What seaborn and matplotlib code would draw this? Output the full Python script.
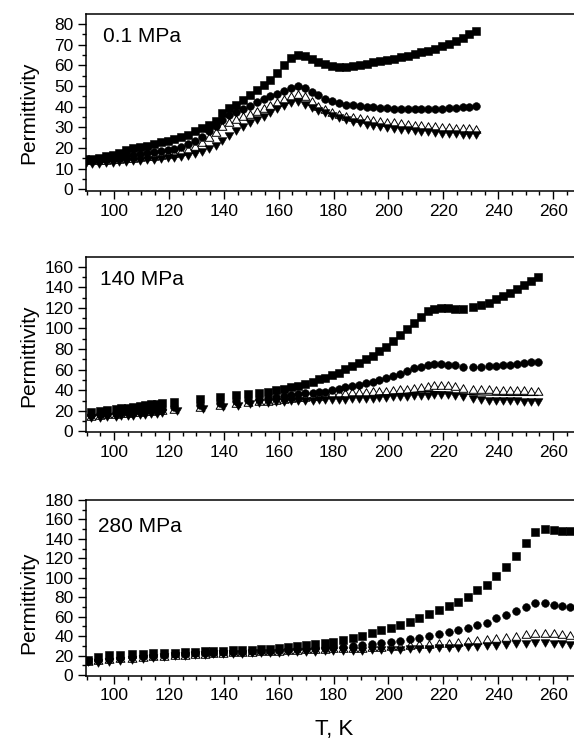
import matplotlib
matplotlib.use("Agg")
import matplotlib.pyplot as plt
import seaborn as sns
from matplotlib.ticker import MultipleLocator
from matplotlib.path import Path
from matplotlib.markers import MarkerStyle

# ---------------- data: 0.1 MPa ----------------
T_01 = [89.5, 92, 94.5, 97, 99.5, 102, 104.5, 107, 109.5, 112,
        114.5, 117, 119.5, 122, 124.5, 127, 129.5, 132, 134.5, 137,
        139.5, 142, 144.5, 147, 149.5, 152, 154.5, 157, 159.5, 162,
        164.5, 167, 169.5, 172, 174.5, 177, 179.5, 182, 184.5, 187,
        189.5, 192, 194.5, 197, 199.5, 202, 204.5, 207, 209.5, 212,
        214.5, 217, 219.5, 222, 224.5, 227, 229.5, 232]
sq_01 = [14.5, 14.8, 15.3, 16, 16.8, 17.8, 18.8, 19.8, 20.5, 21.2,
         21.9, 22.7, 23.5, 24.3, 25.3, 26.5, 28, 29.6, 31, 33,
         36.8, 39.2, 41, 43, 45.5, 48, 50.3, 53, 56.3, 60,
         63.3, 65, 64.5, 63, 61.6, 60.6, 59.8, 59.3, 59.2, 59.6,
         60.2, 60.8, 61.4, 62, 62.5, 63.2, 63.8, 64.6, 65.4, 66.2,
         67, 68, 69.2, 70.3, 71.6, 73.3, 75, 76.4]
ci_01 = [14, 14.2, 14.5, 14.8, 15.2, 15.6, 16, 16.5, 17, 17.5,
         18, 18.5, 19, 19.7, 20.5, 21.8, 23.3, 25.3, 28, 30.8,
         33.5, 35.8, 37.5, 38.8, 40.5, 42, 43.5, 45, 46.3, 47.8,
         49.2, 49.8, 49, 47.3, 45.5, 43.8, 42.6, 41.7, 41, 40.6,
         40.2, 39.9, 39.6, 39.4, 39.2, 39, 38.9, 38.8, 38.7, 38.7,
         38.7, 38.8, 39, 39.1, 39.3, 39.6, 40, 40.3]
op_01 = [14, 14.1, 14.2, 14.4, 14.6, 14.8, 15, 15.3, 15.6, 15.9,
         16.2, 16.6, 17, 17.6, 18.5, 19.6, 21, 23, 25.3, 27.8,
         30.5, 32.5, 34.2, 35.3, 36.5, 38, 39.4, 40.8, 42.2, 43.5,
         45, 46.2, 45, 42.5, 40.5, 38.8, 37.3, 36.3, 35.6, 35,
         34.5, 34, 33.6, 33.2, 32.8, 32.4, 32, 31.7, 31.3, 31,
         30.7, 30.5, 30.3, 30.1, 29.9, 29.7, 29.5, 29.4]
dn_01 = [12, 12.2, 12.4, 12.6, 12.8, 13, 13.3, 13.6, 13.9, 14.1,
         14.4, 14.7, 15, 15.3, 15.7, 16.2, 17, 18, 19.3, 21,
         23.5, 26, 28.3, 30.2, 32, 33.5, 35, 36.8, 38.8, 40.5,
         41.8, 42.3, 41, 39.3, 37.8, 36.8, 35.5, 34.4, 33.5, 32.7,
         32, 31.3, 30.6, 30.1, 29.6, 29.2, 28.8, 28.5, 28.2, 27.9,
         27.6, 27.3, 27, 26.8, 26.6, 26.4, 26.3, 26.2]

# ---------------- data: 140 MPa ----------------
T_140 = [91.8, 94.8, 97.3, 100.9, 102.7, 105.2, 107.0, 109.4, 111.2, 113.6,
         115.5, 117.6, 121.8, 131.2, 138.5, 144.3, 148.8, 152.7, 156.0, 159.1,
         162.1, 164.5, 167.0, 169.7, 172.4, 174.8, 177.0, 179.3, 181.8, 184.2,
         186.8, 189.3, 191.8, 194.3, 196.7, 199.2, 201.8, 204.2, 206.7, 209.2,
         211.7, 214.3, 216.7, 219.2, 221.8, 224.3, 227.3, 230.8, 233.8, 236.7,
         239.3, 241.9, 244.4, 247.0, 249.4, 251.9, 254.5]
sq_140 = [19, 19.5, 21, 22, 22.5, 23.2, 24, 24.8, 25.5, 26.2,
          27, 27.8, 29, 31.5, 33.8, 35, 36.3, 37.8, 38.8, 40.4,
          41.6, 43.4, 44.6, 46.5, 48.5, 50.5, 52.3, 55, 57.2, 60.5,
          63.7, 66.3, 70.2, 73.4, 78.3, 82.5, 88.3, 93.8, 99.3, 105.7,
          111.5, 117.1, 119.3, 120.3, 120.3, 119.3, 119.3, 120.6, 122.6, 125.1,
          128.4, 131.6, 134.8, 138.7, 142.6, 146.2, 149.8]
ci_140 = [16, 16.5, 17, 18, 18.5, 19, 19.5, 20, 20.5, 21,
          21.5, 22, 23.5, 26, 28, 29.5, 30.5, 31.5, 32.5, 33.5,
          34.5, 35.5, 36.3, 37, 37.8, 38.3, 38.8, 40.4, 41.4, 42.7,
          43.7, 45.3, 46.9, 48.5, 50.1, 51.8, 53.4, 56.0, 58.9, 61.5,
          63.0, 64.7, 65.3, 65.3, 65.0, 64.4, 63.0, 63.0, 63.0, 63.4,
          63.7, 64.4, 65.0, 65.7, 66.3, 67.0, 67.9]
op_140 = [15.5, 16, 16.5, 17.2, 17.6, 18, 18.6, 19.2, 19.7, 20.2,
          20.6, 21, 22, 24, 26, 27.5, 28.5, 29.5, 30, 31,
          32, 32.5, 33, 33.5, 34, 34.5, 36.5, 37, 37.3, 37.6,
          38, 38.3, 38.6, 39, 39.3, 39.7, 40.2, 40.8, 41.5, 42.5,
          43.5, 44.3, 45, 45.3, 45, 44.3, 42.5, 41.5, 41, 40.8,
          40.5, 40.3, 40.2, 40, 39.8, 39.6, 39.5]
Tdn_140 = [91.8, 94.8, 97.3, 100.9, 102.7, 105.2, 107.0, 109.4, 111.2, 113.6,
           115.5, 117.6, 123.0, 132.4, 139.7, 145.2, 149.4, 152.7, 156.0, 159.1,
           162.1, 164.5, 167.0, 169.7, 172.4, 174.8, 177.0, 179.3, 181.8, 184.2,
           186.8, 189.3, 191.8, 194.3, 196.7, 199.2, 201.8, 204.2, 206.7, 209.2,
           211.7, 214.3, 216.7, 219.2, 221.8, 224.3, 227.3, 230.8, 233.8, 236.7,
           239.3, 241.9, 244.4, 247.0, 249.4, 251.9, 254.5]
dn_140 = [13, 13.3, 13.8, 14.3, 14.6, 15, 15.3, 15.8, 16.3, 16.8,
          17.3, 18, 19.4, 21.7, 23.7, 24.9, 26.5, 27.5, 28, 28.5,
          29, 29.3, 29.5, 29.8, 30, 30.2, 30.3, 30.5, 30.7, 31,
          31.2, 31.5, 31.8, 32, 32.3, 32.6, 33, 33.3, 33.7, 34,
          34.4, 34.8, 35.1, 35.2, 35, 34.4, 33, 31.5, 30.5, 30,
          29.7, 29.5, 29.3, 29.2, 29.1, 29, 29]
Tln_140 = [196.7, 199.2, 201.8, 204.2, 206.7, 209.2, 211.7, 214.3, 216.7, 219.2,
           221.8, 224.3, 227.3, 230.8, 233.8, 236.7, 239.3, 241.9, 244.4, 247.0,
           249.4, 251.9, 254.5]
ln_140 = [35.2, 35.6, 36, 36.5, 37.2, 38, 38.5, 38.8, 38.8, 38.4,
          37.8, 37, 36.3, 35.8, 35.5, 35.3, 35.2, 35.1, 35, 35,
          35, 35, 35]

# ---------------- data: 280 MPa ----------------
T_280 = [90.7, 94.2, 98.2, 102.1, 106.4, 110.4, 114.2, 118.1, 122.1, 125.8,
         129.4, 133.0, 136.1, 139.7, 143.3, 146.7, 150.2, 153.6, 156.7, 160.1,
         163.3, 166.6, 170.0, 173.4, 176.7, 179.9, 183.6, 187.0, 190.5, 193.9,
         197.3, 200.8, 204.3, 207.8, 211.3, 214.8, 218.4, 221.9, 225.4, 228.9,
         232.4, 235.9, 239.3, 243.0, 246.5, 250.0, 253.4, 256.9, 260.3, 263.3,
         266.0]
sq_280 = [15.5, 18.9, 20.2, 20.8, 21.2, 21.8, 22.3, 22.6, 23, 23.5,
          24, 24.3, 24.7, 25, 25.4, 25.8, 26.2, 26.7, 27.2, 27.8,
          28.4, 29.8, 30.6, 31.4, 32.6, 34.3, 36, 38.4, 40.5, 42.9,
          46, 48.7, 51.8, 54.9, 58.6, 62.7, 66.9, 71, 75.4, 80.6,
          87.1, 92.9, 101.5, 111.1, 122.7, 136.1, 147.4, 150.2, 148.8, 148.1,
          148.1]
ci_280 = [14.5, 15.5, 16.5, 17.5, 18.5, 19.3, 20, 20.7, 21.3, 21.8,
          22.2, 22.6, 23, 23.3, 23.6, 24, 24.3, 24.7, 25, 25.4,
          25.8, 26.3, 26.8, 27.3, 27.8, 28.5, 29.2, 30, 30.8, 31.6,
          32.6, 33.9, 35, 36.7, 38.4, 40.5, 42.2, 43.9, 46, 48.7,
          51.4, 53.8, 58.3, 61.4, 65.5, 70.3, 73.7, 73.7, 72, 71,
          70.3]
op_280 = [14, 15, 16, 17, 17.8, 18.5, 19.2, 19.8, 20.4, 21,
          21.5, 22, 22.4, 22.8, 23.2, 23.6, 24, 24.4, 24.8, 25.2,
          25.6, 26, 26.4, 26.8, 27.2, 27.5, 27.8, 28, 28.3, 28.6,
          29, 29.5, 30.2, 30.8, 31.4, 32, 32.7, 33.4, 34.2, 35,
          35.8, 36.7, 37.7, 39, 40.5, 42, 43.3, 43.5, 42.8, 41.8,
          41]
dn_280 = [13.5, 12, 13, 14.5, 15.5, 16.5, 17.3, 18.3, 19.3, 20,
          20.5, 21, 21.2, 21.5, 21.7, 22, 22.2, 22.5, 22.7, 23,
          23.2, 23.5, 23.7, 24, 24.2, 24.5, 24.7, 24.9, 25.1, 25.3,
          25.5, 25.7, 26, 26.3, 26.6, 27, 27.4, 27.8, 28.2, 28.7,
          29.2, 29.7, 30.3, 31, 31.7, 32.4, 32.8, 32.8, 32.3, 31.8,
          31.3]

x_ticks = [100, 120, 140, 160, 180, 200, 220, 240, 260]
panel_labels = ["0.1 MPa", "140 MPa", "280 MPa"]
y_label = "Permittivity"
x_label = "T, K"

# ---------------- style ----------------
sns.set_style("ticks")
plt.rcParams["font.family"] = ["Liberation Sans", "DejaVu Sans"]
plt.rcParams["axes.linewidth"] = 1.1
plt.rcParams["text.color"] = "black"
plt.rcParams["axes.labelcolor"] = "black"
plt.rcParams["xtick.color"] = "black"
plt.rcParams["ytick.color"] = "black"
plt.rcParams["axes.edgecolor"] = "black"

UP = MarkerStyle(Path([(-1, -0.866), (1, -0.866), (0, 0.866), (-1, -0.866)],
                      [Path.MOVETO, Path.LINETO, Path.LINETO, Path.CLOSEPOLY]))
DOWN = MarkerStyle(Path([(-1, 0.866), (1, 0.866), (0, -0.866), (-1, 0.866)],
                        [Path.MOVETO, Path.LINETO, Path.LINETO, Path.CLOSEPOLY]))

fig = plt.figure(figsize=(5.74, 7.42), dpi=100)
W = 574.0
H = 742.0
left = 86 / W
rects = [
    (left, (H - 191) / H, 1 - left, 177 / H),
    (left, (H - 432.3) / H, 1 - left, 175.6 / H),
    (left, (H - 676) / H, 1 - left, 176 / H),
]
ylims = [(-0.8, 84.8), (-0.8, 169.7), (-1.0, 180.0)]
ymaj = [10, 20, 20]
ymin_ = [5, 10, 10]
text_y = [0.842, 0.838, 0.82]
text_x = [0.035, 0.029, 0.024]
ylab_y = [0.443, 0.437, 0.415]

panels = [
    dict(sq=(T_01, sq_01), ci=(T_01, ci_01), op=(T_01, op_01), dn=(T_01, dn_01), ln=None),
    dict(sq=(T_140, sq_140), ci=(T_140, ci_140), op=(T_140, op_140), dn=(Tdn_140, dn_140),
         ln=(Tln_140, ln_140)),
    dict(sq=(T_280, sq_280), ci=(T_280, ci_280), op=(T_280, op_280), dn=(T_280, dn_280), ln=None),
]

for i, p in enumerate(panels):
    ax = fig.add_axes(rects[i])
    sns.scatterplot(x=p["op"][0], y=p["op"][1], ax=ax, marker=UP, s=40,
                    color="white", edgecolor="black", linewidth=0.7, zorder=3, legend=False)
    if p["ln"] is not None:
        sns.lineplot(x=p["ln"][0], y=p["ln"][1], ax=ax, color="black",
                     linewidth=0.9, zorder=3.5, legend=False)
    sns.scatterplot(x=p["dn"][0], y=p["dn"][1], ax=ax, marker=DOWN, s=40,
                    color="black", edgecolor="black", linewidth=0.4, zorder=4, legend=False)
    sns.scatterplot(x=p["ci"][0], y=p["ci"][1], ax=ax, marker="o", s=31,
                    color="black", edgecolor="black", linewidth=0.4, zorder=5, legend=False)
    sns.scatterplot(x=p["sq"][0], y=p["sq"][1], ax=ax, marker="s", s=27,
                    color="black", edgecolor="black", linewidth=0.4, zorder=6, legend=False)

    ax.set_xlim(89.8, 267.6)
    ax.set_xticks(x_ticks)
    ax.xaxis.set_minor_locator(MultipleLocator(5))
    ax.yaxis.set_major_locator(MultipleLocator(ymaj[i]))
    ax.yaxis.set_minor_locator(MultipleLocator(ymin_[i]))
    ax.set_ylim(*ylims[i])
    ax.spines["right"].set_visible(False)
    for s in ["left", "bottom", "top"]:
        ax.spines[s].set_color("black")
        ax.spines[s].set_linewidth(1.1)
    ax.tick_params(which="major", direction="out", length=5.5, width=1.0,
                   labelsize=12.5, colors="black", pad=3.5, top=False, right=False)
    ax.tick_params(which="minor", direction="out", length=3, width=1.0,
                   colors="black", top=False, right=False)
    ax.set_ylabel(y_label, fontsize=15, color="black")
    ax.yaxis.set_label_coords(-0.098, ylab_y[i])
    ax.set_xlabel("")
    ax.text(text_x[i], text_y[i], panel_labels[i], transform=ax.transAxes,
            fontsize=15, va="baseline", ha="left", color="black")
    if i == 2:
        ax.set_xlabel(x_label, fontsize=16, color="black")
        ax.xaxis.set_label_coords(0.509, -0.245)

fig.savefig("out.png", dpi=100)
